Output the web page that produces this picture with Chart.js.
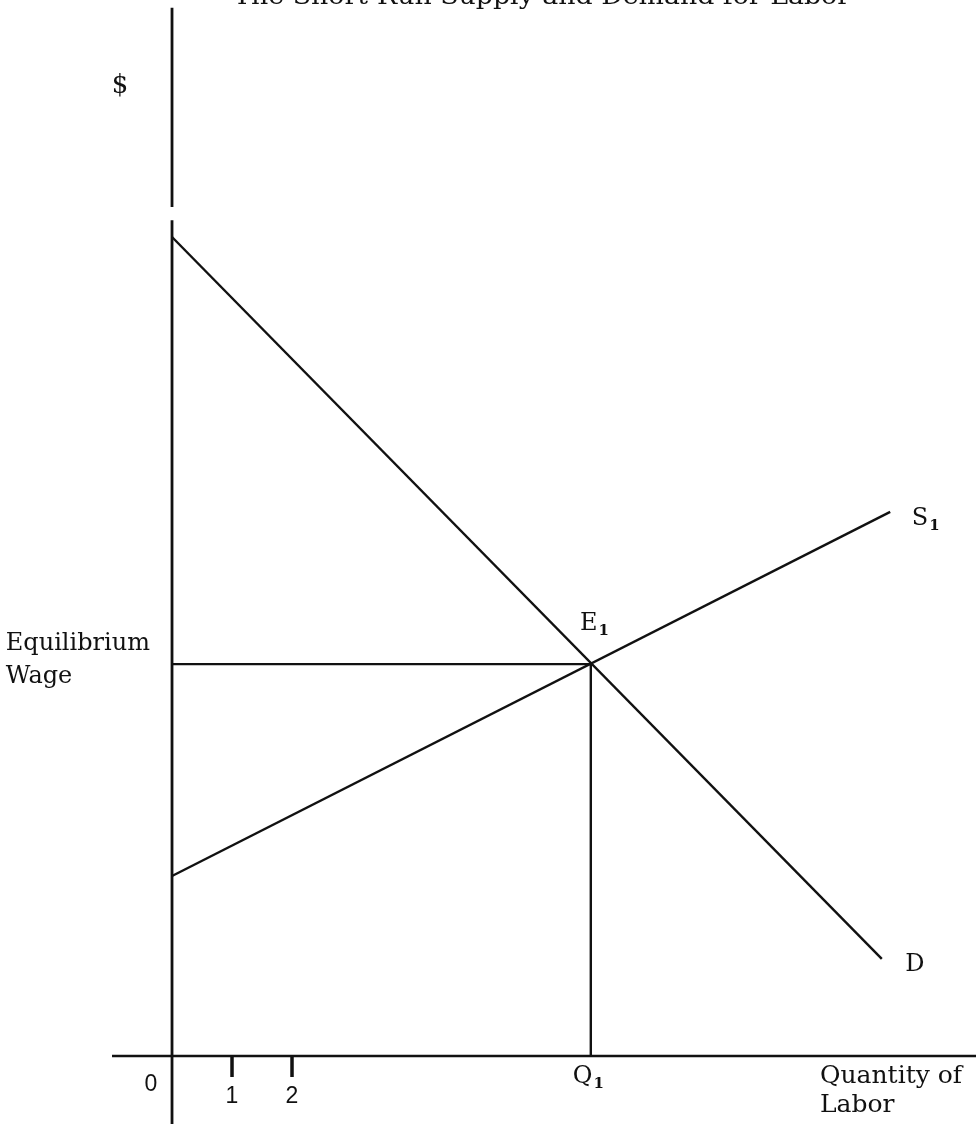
<!DOCTYPE html>
<html>
<head>
<meta charset="utf-8">
<title>The Short-Run Supply and Demand for Labor</title>
<script src="https://cdn.jsdelivr.net/npm/chart.js@4/dist/chart.umd.min.js"></script>
<style>
    html, body { margin: 0; padding: 0; background: #fff; }
    canvas { display: block; }
</style>
</head>
<body>
<canvas id="laborChart" width="976" height="1124"></canvas>
<script>
// values (1 unit = one tick step on the quantity axis)
const demandQty = [0, 11.83];
const demandWage = [13.65, 1.62];
const supplyQty = [0, 11.97];
const supplyWage = [3.0, 9.07];
const eqQty = 6.98;
const eqWage = 6.53;
const tickValues = [1, 2];
const tickLabels = ['1', '2'];

// visible window of the axes
const xMin = -2.867, xMax = 13.4;
const yMin = -1.133, yMax = 17.6;

const INK = '#111';
const SERIF = '"DejaVu Serif", "Liberation Serif", serif';
const SANS = '"Liberation Sans", "DejaVu Sans", sans-serif';

function seg(x0, y0, x1, y1) {
    return [{ x: x0, y: y0 }, { x: x1, y: y1 }];
}

function lineSet(label, data, width) {
    return {
        label: label,
        data: data,
        showLine: true,
        borderColor: INK,
        borderWidth: width,
        pointRadius: 0,
        fill: false,
        tension: 0,
        spanGaps: false
    };
}

const datasets = [
    lineSet('Demand', demandQty.map((q, i) => ({ x: q, y: demandWage[i] })), 2.4),
    lineSet('Supply', supplyQty.map((q, i) => ({ x: q, y: supplyWage[i] })), 2.4),
    lineSet('Wage line', seg(0, eqWage, eqQty, eqWage), 2.2),
    lineSet('Quantity line', seg(eqQty, eqWage, eqQty, 0), 2.4),
    // y axis with its small break near the top
    lineSet('Y axis', [{ x: 0, y: -1.133 }, { x: 0, y: 13.93 }, { x: null, y: null }, { x: 0, y: 14.15 }, { x: 0, y: 17.47 }], 2.8),
    lineSet('X axis', seg(-1, 0, 13.4, 0), 2.6)
];
tickValues.forEach(v => datasets.push(lineSet('tick ' + v, seg(v, 0, v, -0.35), 3.5)));

// text is placed in data units so it follows the scales
const textPlugin = {
    id: 'labels',
    afterDatasetsDraw(chart) {
        const ctx = chart.ctx;
        const sx = chart.scales.x, sy = chart.scales.y;
        const px = v => sx.getPixelForValue(v);
        const py = v => sy.getPixelForValue(v);

        ctx.save();
        ctx.fillStyle = INK;
        ctx.textBaseline = 'alphabetic';

        const text = (str, x, y, size, align, family) => {
            ctx.font = `${size}px ${family || SERIF}`;
            ctx.textAlign = align || 'left';
            ctx.fillText(str, px(x), py(y));
        };
        const subText = (main, sub, x, y) => {
            ctx.font = `24px ${SERIF}`;
            ctx.textAlign = 'left';
            const w = ctx.measureText(main).width;
            ctx.fillText(main, px(x), py(y));
            ctx.font = `bold 15px ${SERIF}`;
            ctx.fillText(sub, px(x) + w + 1, py(y) + 5);
        };

        // title, cut off at the top edge
        const title = 'The Short-Run Supply and Demand for Labor';
        ctx.font = `24px ${SERIF}`;
        ctx.textAlign = 'left';
        const tw = ctx.measureText(title).width;
        const target = px(11.3) - px(1.02);
        ctx.save();
        ctx.translate(px(1.02), py(17.54));
        ctx.scale(target / tw, 1);
        ctx.fillText(title, 0, 0);
        ctx.restore();

        text('$', -0.867, 16.05, 26, 'center');
        text('Equilibrium', -2.77, 6.77, 24);
        text('Wage', -2.77, 6.22, 24);
        subText('E', '1', 6.8, 7.1);
        subText('S', '1', 12.33, 8.85);
        text('D', 12.22, 1.42, 24);
        subText('Q', '1', 6.68, -0.45);
        text('Quantity of', 10.8, -0.45, 25);
        text('Labor', 10.8, -0.93, 25);

        ctx.textBaseline = 'middle';
        text('0', -0.35, -0.48, 23, 'center', SANS);
        tickValues.forEach((v, i) => text(tickLabels[i], v, -0.67, 23, 'center', SANS));
        ctx.restore();
    }
};

new Chart(document.getElementById('laborChart'), {
    type: 'scatter',
    data: { datasets: datasets },
    options: {
        responsive: false,
        animation: false,
        layout: { padding: 0 },
        plugins: {
            legend: { display: false },
            tooltip: { enabled: false }
        },
        scales: {
            x: { type: 'linear', display: false, min: xMin, max: xMax },
            y: { type: 'linear', display: false, min: yMin, max: yMax }
        }
    },
    plugins: [textPlugin]
});
</script>
</body>
</html>
